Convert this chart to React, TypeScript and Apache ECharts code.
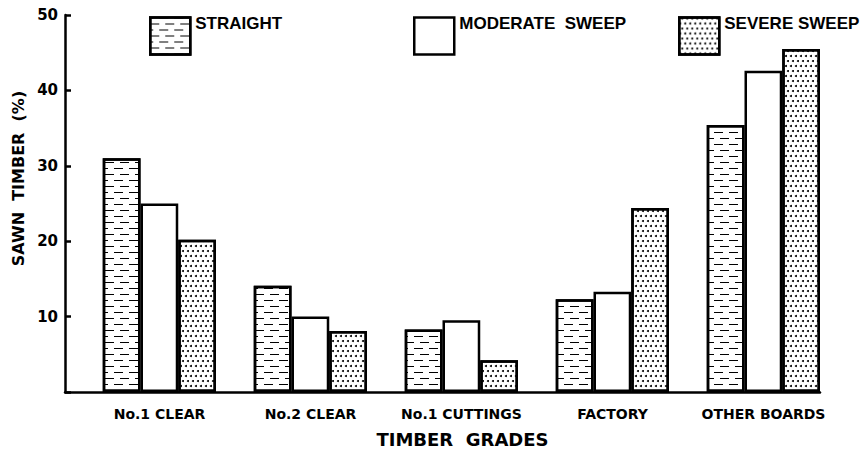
import React, { useEffect, useRef } from "react";
import * as echarts from "echarts";

const categories = ["No.1 CLEAR", "No.2 CLEAR", "No.1 CUTTINGS", "FACTORY", "OTHER BOARDS"];
const straight = [31, 14.1, 8.3, 12.3, 35.4];
const moderate = [25, 10, 9.5, 13.3, 42.6];
const severe = [20.2, 8.1, 4.2, 24.4, 45.5];
const spacer = ["-", "-", "-", "-", "-"];
const seriesNames = ["STRAIGHT", "MODERATE  SWEEP", "SEVERE SWEEP"];
const yTicks = { min: 0, max: 50, interval: 10 };

const dashDecal = {
  symbol: "rect",
  symbolSize: 1,
  color: "#000",
  dashArrayX: [[9, 6], [3, 6, 6, 0]],
  dashArrayY: [1, 4.8],
  rotation: 0,
};

const dotDecal = {
  symbol: "circle",
  symbolSize: 1,
  color: "#000",
  dashArrayX: [[1.5, 2.5], [0, 2, 1.5, 0.5]],
  dashArrayY: [1.5, 2.4],
  rotation: 0,
};

const barBase = {
  type: "bar",
  barGap: "0%",
  barCategoryGap: "0%",
  silent: true,
};

export default function App() {
  const ref = useRef<HTMLDivElement>(null);
  useEffect(() => {
    if (!ref.current) return;
    const chart = echarts.init(ref.current, null, { renderer: "svg" });
    const legendBase = {
      top: 10,
      itemWidth: 40,
      itemHeight: 37,
      icon: "rect",
      selectedMode: false,
      itemStyle: { borderColor: "#000", borderWidth: 2.5 },
      formatter: "{t|{name}}",
      textStyle: {
        fontFamily: "Liberation Sans",
        fontWeight: "bold",
        fontSize: 17,
        color: "#000",
        rich: {
          t: {
            fontFamily: "Liberation Sans",
            fontWeight: "bold",
            fontSize: 17,
            color: "#000",
            padding: [0, 0, 25, 0],
          },
        },
      },
    };
    const titleStyle = {
      fontFamily: "DejaVu Sans",
      fontWeight: "bold",
      color: "#000",
    };
    chart.setOption({
      animation: false,
      backgroundColor: "#fff",
      grid: { left: 65, right: 45, top: 15, bottom: 61, containLabel: false },
      legend: [
        { ...legendBase, left: 144, data: [seriesNames[0]] },
        { ...legendBase, left: 408, data: [seriesNames[1]] },
        { ...legendBase, left: 673, data: [seriesNames[2]] },
      ],
      xAxis: {
        type: "category",
        data: categories,
        name: "TIMBER  GRADES",
        nameLocation: "middle",
        nameGap: 38,
        nameTextStyle: {
          ...titleStyle,
          fontSize: 18,
          padding: [0, 0, 0, 40],
        },
        axisLine: { lineStyle: { color: "#000", width: 2.5 } },
        axisTick: { show: false },
        axisLabel: {
          interval: 0,
          margin: 15,
          fontFamily: "DejaVu Sans",
          fontWeight: "bold",
          fontSize: 14,
          color: "#000",
          padding: [0, 0, 0, 38],
        },
        splitLine: { show: false },
      },
      yAxis: {
        type: "value",
        min: yTicks.min,
        max: yTicks.max,
        interval: yTicks.interval,
        name: "SAWN  TIMBER  (%)",
        nameLocation: "middle",
        nameGap: 37,
        nameTextStyle: {
          ...titleStyle,
          fontSize: 16,
          padding: [0, 0, 0, 50],
        },
        axisLine: { show: true, lineStyle: { color: "#000", width: 2.5 } },
        axisTick: { show: true, inside: true, length: 6, lineStyle: { color: "#000", width: 2.5 } },
        axisLabel: {
          margin: 7,
          fontFamily: "DejaVu Sans",
          fontWeight: "bold",
          fontSize: 15,
          color: "#000",
          formatter: (v: number) => (v === 0 ? "" : String(v)),
        },
        splitLine: { show: false },
      },
      series: [
        { ...barBase, name: "_spacer", data: spacer, itemStyle: { color: "transparent" } },
        {
          ...barBase,
          name: seriesNames[0],
          data: straight,
          itemStyle: { color: "#fff", borderColor: "#000", borderWidth: 2.5, decal: dashDecal },
        },
        {
          ...barBase,
          name: seriesNames[1],
          data: moderate,
          itemStyle: { color: "#fff", borderColor: "#000", borderWidth: 2.5 },
        },
        {
          ...barBase,
          name: seriesNames[2],
          data: severe,
          itemStyle: { color: "#fff", borderColor: "#000", borderWidth: 2.5, decal: dotDecal },
        },
      ],
    });
    return () => chart.dispose();
  }, []);
  return <div ref={ref} style={{ width: 865, height: 453, position: "absolute", left: 0, top: 0 }} />;
}
